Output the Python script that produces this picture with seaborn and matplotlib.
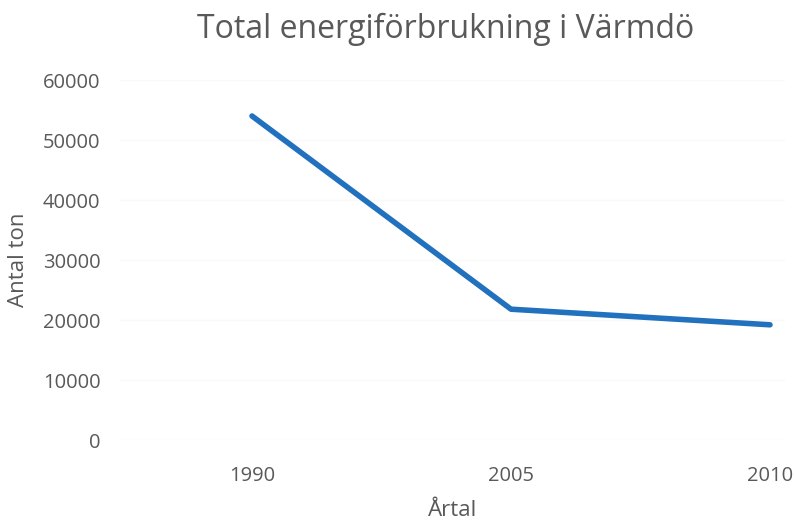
import matplotlib
matplotlib.use("Agg")
import matplotlib.pyplot as plt
import seaborn as sns
import pandas as pd

years = ["1990", "2005", "2010"]
values = [54000, 21800, 19200]
yticks = [0, 10000, 20000, 30000, 40000, 50000, 60000]

sns.set_theme(style="white")
plt.rcParams["font.family"] = ["Open Sans", "DejaVu Sans"]

W, H = 794, 521
fig = plt.figure(figsize=(W / 100, H / 100), dpi=100)
left_px, right_px, top_px, bottom_px = 120, 785, 80, 440
ax = fig.add_axes([left_px / W, 1 - bottom_px / H, (right_px - left_px) / W, (bottom_px - top_px) / H])

df = pd.DataFrame({"year": years, "value": values})
sns.lineplot(data=df, x="year", y="value", ax=ax, color="#2271BF", linewidth=4.0,
             solid_capstyle="round", solid_joinstyle="round")

ax.set_ylim(0, 60000)
ax.set_yticks(yticks)
ax.set_yticklabels([str(v) for v in yticks])
ax.set_xlim(-(252 - left_px) / 259, 2 + (right_px - 770) / 259)

for s in ax.spines.values():
    s.set_visible(False)
ax.grid(axis="y", color="#f9f9f9", linewidth=1)
ax.tick_params(axis="both", length=0, labelsize=14.5, colors="#595959")
ax.tick_params(axis="y", pad=14)
ax.tick_params(axis="x", pad=19)

ax.set_xlabel("Årtal", fontsize=16, color="#595959", labelpad=10)
ax.set_ylabel("Antal ton", fontsize=16, color="#595959", labelpad=10)
fig.suptitle("Total energiförbrukning i Värmdö", x=446 / W, y=1 - 13 / H, va="top",
             fontsize=23, color="#595959")

fig.savefig("out.png", dpi=100)
